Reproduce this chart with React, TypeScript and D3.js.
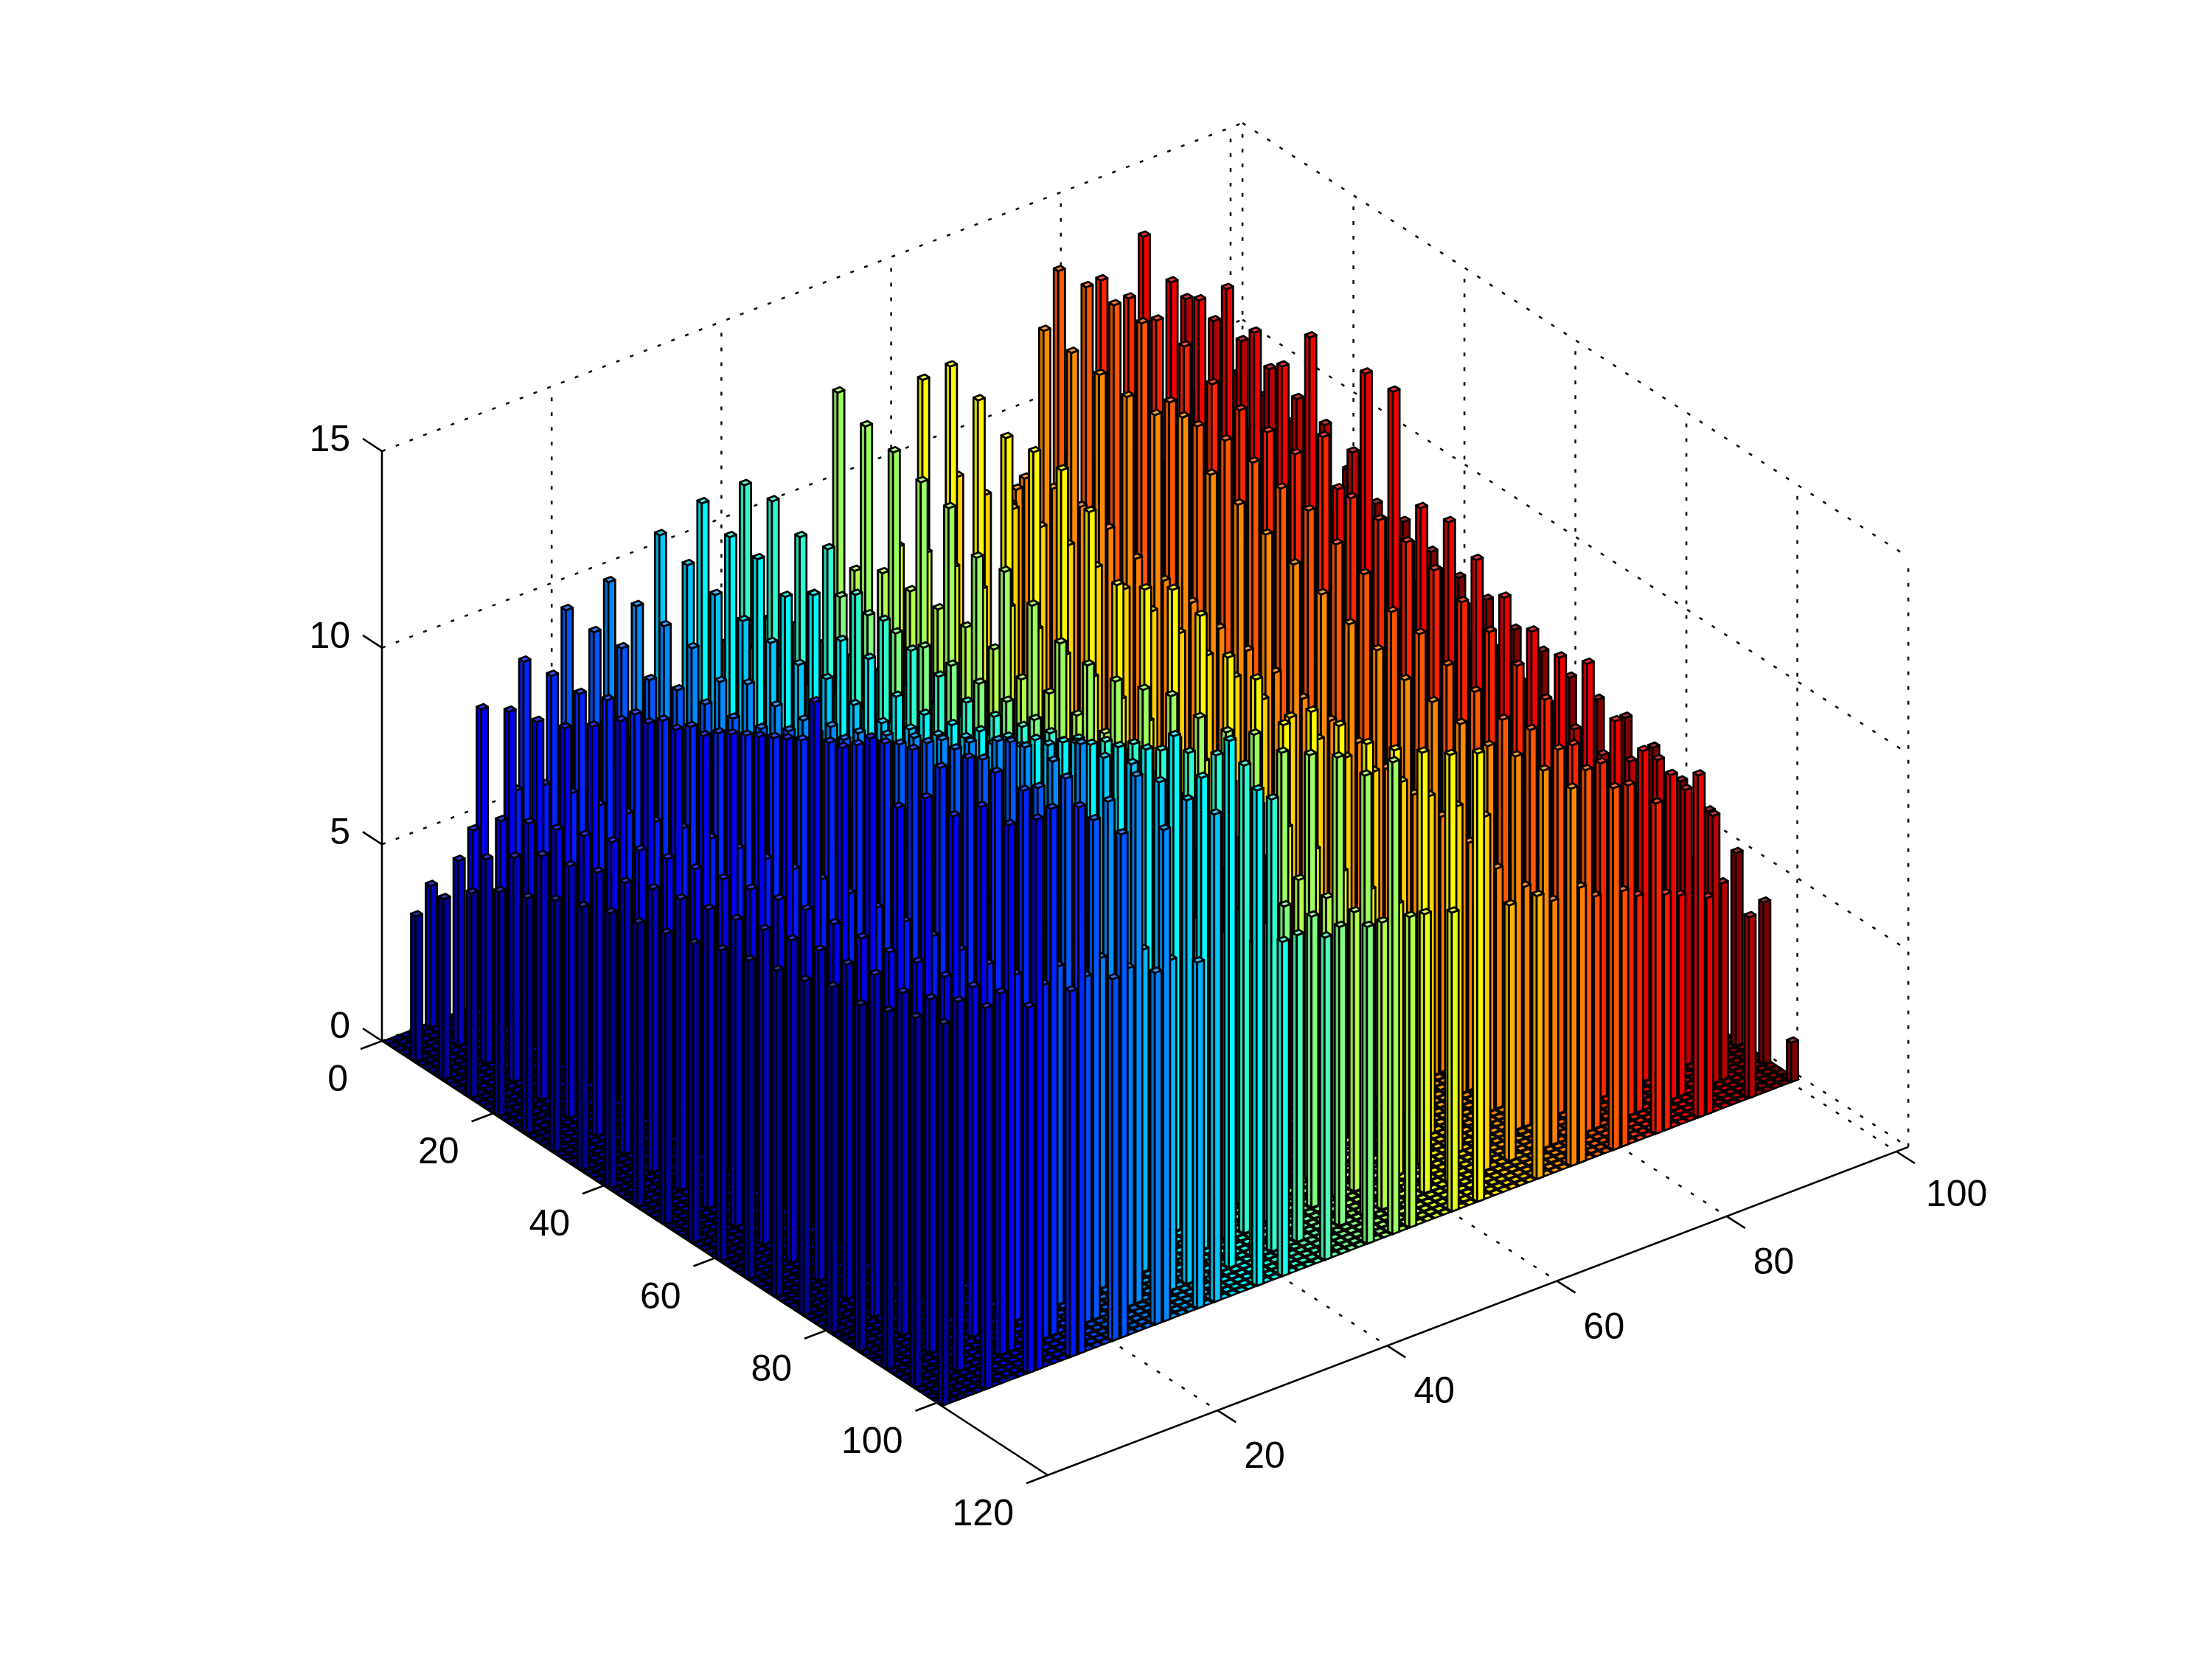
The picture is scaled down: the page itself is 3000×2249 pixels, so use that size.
import React from "react";
import * as d3 from "d3";

// Lattice positions (row and column index of the bars)
const rowIdx = [1, 6, 11, 16, 21, 26, 31, 36, 41, 46, 51, 56, 61, 66, 71, 76, 81, 86, 91, 96, 101];
const shortCols = [1, 6, 11, 16, 21, 26, 31, 41, 46, 51, 56, 61, 71, 76, 81, 86, 91, 96, 101];
const tallCols = [12, 17, 22, 27, 33, 38, 43, 54, 64, 68, 75, 80, 85, 90, 95];

// Heights of the shorter family: one line per row, one value per shortCols entry
const shortZ = [
  [0, 3.6, 4.6, 5.2, 5.6, 6.0, 6.3, 6.9, 7.1, 7.3, 7.5, 7.7, 8.0, 8.2, 8.3, 8.4, 8.5, 8.7, 8.8],
  [3.7, 4.7, 5.3, 5.8, 5.9, 6.2, 6.5, 7.2, 7.4, 7.7, 7.9, 8.0, 8.4, 8.4, 8.5, 8.6, 8.7, 8.8, 8.7],
  [4.6, 5.2, 5.7, 6.05, 6.3, 6.4, 6.7, 7.2, 7.4, 7.7, 7.9, 8.1, 8.3, 8.4, 8.5, 8.6, 8.6, 8.6, 8.5],
  [5.2, 5.7, 6.0, 6.2, 6.5, 6.6, 6.8, 7.2, 7.5, 7.7, 7.9, 8.0, 8.3, 8.3, 8.3, 8.2, 8.3, 8.4, 8.4],
  [5.7, 6.2, 6.3, 6.45, 6.7, 6.8, 7.0, 7.4, 7.6, 7.8, 7.9, 8.0, 8.1, 8.0, 8.0, 8.1, 8.1, 8.2, 8.2],
  [6.0, 6.4, 6.6, 6.7, 6.9, 7.1, 7.2, 7.5, 7.7, 7.8, 7.8, 7.9, 7.9, 7.9, 7.9, 8.0, 8.0, 8.0, 7.8],
  [6.4, 6.7, 6.85, 7.0, 7.1, 7.2, 7.4, 7.6, 7.7, 7.8, 7.5, 7.7, 7.7, 7.8, 7.8, 7.8, 7.8, 7.8, 7.8],
  [6.7, 6.9, 7.1, 7.2, 7.3, 7.4, 7.5, 7.7, 7.8, 7.8, 7.6, 7.6, 7.6, 7.6, 7.7, 7.7, 7.6, 7.6, 7.5],
  [7.0, 7.2, 7.3, 7.4, 7.5, 7.6, 7.7, 7.8, 7.8, 7.8, 7.5, 7.5, 7.5, 7.5, 7.5, 7.5, 7.4, 7.5, 7.3],
  [7.2, 7.4, 7.5, 7.6, 7.7, 7.8, 7.8, 7.9, 7.8, 7.7, 7.5, 7.4, 7.4, 7.4, 7.3, 7.3, 7.3, 7.2, 7.2],
  [7.4, 7.6, 7.7, 7.8, 7.9, 7.9, 7.9, 7.8, 7.7, 7.6, 7.5, 7.4, 7.3, 7.2, 7.2, 7.1, 7.1, 7.0, 6.9],
  [7.6, 7.8, 7.9, 8.0, 8.0, 8.0, 7.9, 7.7, 7.6, 7.5, 7.4, 7.3, 7.1, 7.1, 7.0, 7.0, 6.9, 6.9, 6.8],
  [7.9, 8.0, 8.1, 8.1, 8.1, 8.0, 7.9, 7.6, 7.5, 7.4, 7.3, 7.2, 7.0, 7.0, 6.9, 6.8, 6.8, 6.7, 6.6],
  [8.1, 8.2, 8.2, 8.2, 8.1, 8.0, 7.9, 7.6, 7.4, 7.3, 7.2, 7.1, 6.9, 6.8, 6.7, 6.7, 6.6, 6.5, 6.5],
  [8.3, 8.4, 8.3, 8.3, 8.2, 8.1, 7.9, 7.6, 7.4, 7.3, 7.1, 7.0, 6.7, 6.6, 6.5, 6.5, 6.4, 6.4, 6.5],
  [8.5, 8.5, 8.4, 8.4, 8.3, 8.2, 8.0, 7.6, 7.4, 7.2, 7.1, 6.9, 6.6, 6.5, 6.4, 6.3, 6.3, 6.3, 6.2],
  [8.8, 8.7, 8.6, 8.5, 8.4, 8.2, 8.0, 7.6, 7.4, 7.2, 7.0, 6.8, 6.4, 6.3, 6.2, 6.1, 6.0, 5.8, 5.8],
  [8.8, 8.7, 8.7, 8.6, 8.4, 8.3, 8.1, 7.7, 7.5, 7.2, 7.0, 6.8, 6.3, 6.1, 5.9, 5.8, 5.6, 5.4, 5.5],
  [9.1, 9.0, 8.9, 8.8, 8.6, 8.4, 8.2, 7.8, 7.6, 7.4, 7.1, 6.9, 6.3, 6.1, 5.9, 5.6, 5.4, 5.1, 4.9],
  [9.4, 9.4, 9.2, 9.0, 8.8, 8.6, 8.4, 8.0, 7.8, 7.6, 7.3, 7.1, 6.5, 6.2, 5.9, 5.5, 5.1, 5.0, 4.1],
  [9.7, 9.7, 9.3, 9.3, 9.2, 8.95, 8.8, 8.5, 8.2, 8.06, 7.9, 7.6, 7.2, 7.0, 6.5, 6.0, 5.5, 4.6, 1.0],
];

// Heights of the taller family: one line per tallCols entry, one value per row
const tallZ = [
  [7.6, 8.0, 8.2, 8.5, 9.0, 9.6, 10.0, 10.3, 10.6, 11.1, 11.5, 11.9, 13.3, 12.6, 13.3, 12.0, 12.7, 12.7, 13.4, 13.4, 14.0],
  [8.4, 8.5, 8.5, 8.8, 8.9, 9.2, 9.5, 9.8, 10.2, 10.6, 11.0, 11.4, 11.8, 12.3, 12.6, 12.6, 13.3, 13.4, 13.4, 13.4, 13.9],
  [9.3, 9.2, 9.25, 8.9, 9.1, 9.2, 9.3, 9.5, 9.9, 10.3, 10.6, 11.0, 11.4, 11.9, 12.2, 12.4, 13.3, 12.6, 13.3, 12.7, 12.8],
  [9.6, 9.45, 9.4, 9.3, 8.9, 9.3, 9.2, 9.3, 9.6, 9.9, 10.3, 10.7, 11.1, 11.5, 12.0, 12.3, 12.4, 13.3, 12.3, 13.4, 12.5],
  [10.3, 10.0, 9.7, 9.5, 9.4, 9.3, 9.4, 9.2, 9.2, 9.5, 9.8, 10.2, 10.5, 10.9, 11.4, 11.9, 12.0, 12.3, 12.3, 12.3, 12.4],
  [10.7, 10.3, 10.2, 9.7, 10.2, 9.5, 9.5, 9.0, 9.0, 9.2, 9.5, 9.8, 10.2, 10.6, 11.0, 11.4, 11.8, 12.6, 12.0, 13.4, 12.6],
  [10.75, 10.8, 10.35, 10.5, 9.8, 9.6, 9.3, 9.1, 8.9, 9.0, 9.2, 9.5, 9.8, 10.2, 10.6, 10.9, 11.3, 11.7, 11.9, 11.5, 0],
  [12.2, 11.8, 11.6, 11.3, 11.1, 10.3, 10.4, 10.0, 9.5, 9.4, 9.45, 9.7, 10.0, 9.9, 10.0, 10.4, 10.4, 10.8, 11.2, 11.2, 12.0],
  [11.7, 12.5, 12.1, 11.6, 11.7, 11.7, 11.1, 9.7, 10.05, 10.5, 10.3, 9.7, 9.6, 8.9, 9.7, 9.8, 9.8, 10.1, 10.5, 10.9, 11.4],
  [8.9, 8.9, 9.0, 9.0, 9.0, 8.9, 8.8, 8.7, 8.6, 8.5, 8.4, 8.3, 8.3, 8.2, 8.2, 8.3, 8.5, 8.6, 8.8, 9.0, 0],
  [8.0, 12.5, 12.4, 12.3, 12.2, 12.2, 12.6, 11.6, 11.3, 11.0, 10.7, 10.4, 10.1, 9.9, 9.6, 9.5, 9.4, 9.3, 9.5, 9.6, 9.6],
  [13.15, 13.2, 13.2, 13.2, 11.65, 11.5, 11.6, 11.5, 11.3, 11.2, 10.8, 10.5, 10.0, 9.9, 9.56, 9.35, 9.1, 9.3, 9.26, 9.2, 9.2],
  [12.5, 12.5, 12.4, 12.2, 11.7, 11.5, 11.4, 11.3, 12.2, 11.1, 11.0, 10.9, 10.65, 10.3, 10.0, 9.6, 9.2, 8.5, 8.5, 8.4, 8.4],
  [13.2, 12.5, 12.5, 13.25, 12.6, 12.2, 13.4, 10.0, 13.4, 13.4, 10.9, 11.0, 10.5, 10.0, 9.6, 9.4, 9.7, 8.7, 8.4, 8.25, 8.7],
  [11.2, 11.1, 11.05, 10.8, 10.5, 10.3, 10.06, 8.8, 8.66, 8.44, 8.0, 7.4, 7.0, 6.9, 6.7, 6.5, 6.8, 7.3, 7.0, 6.8, 0],
];

const zTicks = [0, 5, 10, 15];
const aTicks = [0, 20, 40, 60, 80, 100, 120];
const bTicks = [20, 40, 60, 80, 100];

const W = 3000;
const H = 2249;
const bMax = 101.4;

const ax = d3.scaleLinear().domain([0, 120]).range([0, 903]);
const ay = d3.scaleLinear().domain([0, 120]).range([0, 589]);
const bx = d3.scaleLinear().domain([0, 100]).range([0, 1151]);
const by = d3.scaleLinear().domain([0, 100]).range([0, -439]);
const zy = d3.scaleLinear().domain([0, 15]).range([0, -800]);

type P = [number, number];
const proj = (a: number, b: number, z = 0): P => [518 + ax(a) + bx(b), 1412 + ay(a) + by(b) + zy(z)];

const jet = d3
  .scaleLinear<string>()
  .domain([0, 0.125, 0.375, 0.625, 0.875, 1])
  .range(["#00008f", "#0000ff", "#00ffff", "#ffff00", "#ff0000", "#800000"])
  .interpolate(d3.interpolateRgb);
const colOf = (c: number) => jet((c - 1) / 100);

const closed = d3.line<P>().curve(d3.curveLinearClosed);
const open = d3.line<P>();
const HW = 0.4;

function shade(col: string, f: number) {
  const c = d3.rgb(col);
  return d3.rgb(c.r * f, c.g * f, c.b * f).formatRgb();
}
const tint = (col: string) => d3.interpolateRgb(col, "#ffffff")(0.2);

type Bar = { r: number; c: number; z: number };
const bars: Bar[] = [];
rowIdx.forEach((r, i) => {
  shortCols.forEach((c, j) => {
    if (shortZ[i][j] > 0) bars.push({ r, c, z: shortZ[i][j] });
  });
  tallCols.forEach((c, j) => {
    if (tallZ[j][i] > 0) bars.push({ r, c, z: tallZ[j][i] });
  });
});
const depth = (b: Bar) => ay(b.r - 0.5) + by(b.c - 0.5);
bars.sort((p, q) => depth(p) - depth(q));

const floorCols = d3.range(1, 102);
const floorPaths = floorCols.map((c) => {
  const p = d3.path();
  const b = c - 0.5;
  for (let r = 1; r <= 101; r++) {
    const a = r - 0.5;
    const q = [proj(a - HW, b - HW), proj(a + HW, b - HW), proj(a + HW, b + HW), proj(a - HW, b + HW)];
    p.moveTo(q[0][0], q[0][1]);
    p.lineTo(q[1][0], q[1][1]);
    p.lineTo(q[2][0], q[2][1]);
    p.lineTo(q[3][0], q[3][1]);
    p.closePath();
  }
  return { c, d: p.toString() };
});

const dotted: [P, P][] = [];
[0, 5, 10, 15].forEach((z) => {
  dotted.push([proj(0, 0, z), proj(0, bMax, z)]);
  dotted.push([proj(0, bMax, z), proj(120, bMax, z)]);
});
bTicks.forEach((b) => {
  dotted.push([proj(0, b, 0), proj(0, b, 15)]);
  dotted.push([proj(0, b, 0), proj(120, b, 0)]);
});
[0, 20, 40, 60, 80, 100, 120].forEach((a) => dotted.push([proj(a, bMax, 0), proj(a, bMax, 15)]));
[20, 40, 60, 80, 100].forEach((a) => dotted.push([proj(a, 0, 0), proj(a, bMax, 0)]));

const FONT = '"Liberation Sans", Arial, sans-serif';

export default function App() {
  const A = proj(0, 0, 0);
  const B = proj(120, 0, 0);
  const C = proj(120, bMax, 0);
  const T = proj(0, 0, 15);
  return (
    <svg
      width={W}
      height={H}
      viewBox={`0 0 ${W} ${H}`}
      style={{ position: "absolute", left: 0, top: 0, background: "#fff", display: "block" }}
    >
      <g fill="none" stroke="#111" strokeWidth={2.6} strokeDasharray="5 15">
        {dotted.map((s, i) => (
          <path key={i} d={open(s) as string} />
        ))}
      </g>
      <g stroke="#000" strokeWidth={2.5}>
        {floorPaths.map((f) => (
          <path key={f.c} d={f.d} fill={colOf(f.c)} />
        ))}
      </g>
      <g stroke="#000" strokeWidth={2.7} strokeLinejoin="round">
        {bars.map((s, i) => {
          const a = s.r - 0.5;
          const b = s.c - 0.5;
          const col = colOf(s.c);
          const fl = proj(a + HW, b - HW, 0);
          const fr = proj(a + HW, b + HW, 0);
          const bl = proj(a - HW, b - HW, 0);
          const tf = proj(a + HW, b - HW, s.z);
          const tr = proj(a + HW, b + HW, s.z);
          const tl = proj(a - HW, b - HW, s.z);
          const tb = proj(a - HW, b + HW, s.z);
          return (
            <g key={i}>
              <path d={closed([bl, fl, tf, tl]) as string} fill={shade(col, 0.84)} />
              <path d={closed([fl, fr, tr, tf]) as string} fill={col} />
              <path d={closed([tl, tf, tr, tb]) as string} fill={tint(col)} />
            </g>
          );
        })}
      </g>
      <g fill="none" stroke="#000" strokeWidth={2.6}>
        <path d={open([A, T]) as string} />
        <path d={open([A, B]) as string} />
        <path d={open([B, C]) as string} />
        {zTicks.map((z) => {
          const p = proj(0, 0, z);
          return <path key={z} d={open([p, [p[0] - 26, p[1] - 17]]) as string} />;
        })}
        {aTicks.map((a) => {
          const p = proj(a, 0, 0);
          return <path key={a} d={open([p, [p[0] - 29, p[1] + 11]]) as string} />;
        })}
        {bTicks.map((b) => {
          const p = proj(120, b, 0);
          return <path key={b} d={open([p, [p[0] + 25, p[1] + 16]]) as string} />;
        })}
      </g>
      <g fontFamily={FONT} fontSize={50} fill="#000">
        {zTicks.map((z) => {
          const p = proj(0, 0, z);
          return (
            <text key={z} x={475} y={p[1] - (z === 0 ? 4 : 0)} textAnchor="end">
              {z}
            </text>
          );
        })}
        {aTicks.map((a) => {
          const p = proj(a, 0, 0);
          return (
            <text key={a} x={p[0] - 46} y={p[1] + 68} textAnchor="end">
              {a}
            </text>
          );
        })}
        {bTicks.map((b) => {
          const p = proj(120, b, 0);
          return (
            <text key={b} x={p[0] + (b === 100 ? 40 : 36)} y={p[1] + (b === 100 ? 74 : 78)} textAnchor="start">
              {b}
            </text>
          );
        })}
      </g>
    </svg>
  );
}
